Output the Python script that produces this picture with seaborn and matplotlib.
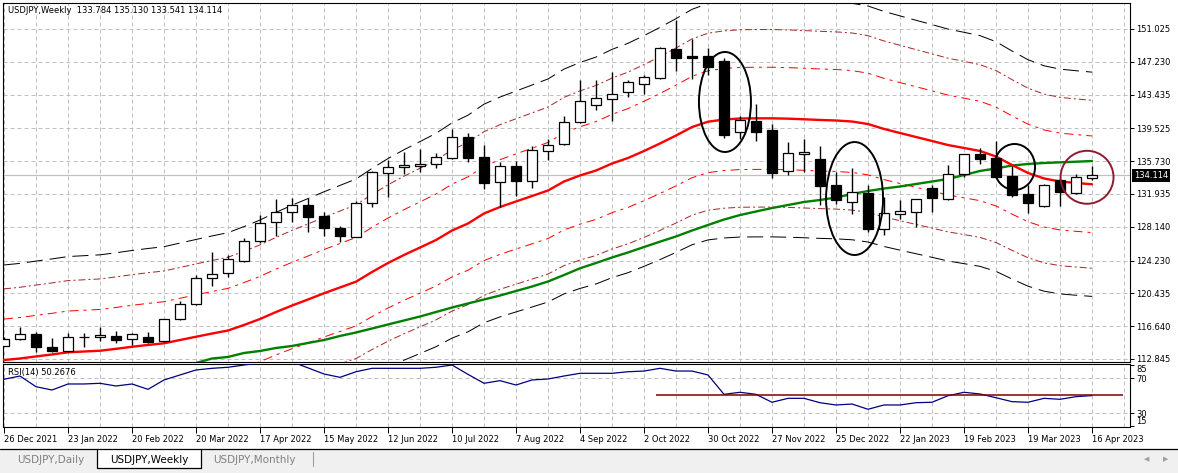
import numpy as np
import pandas as pd
import matplotlib
matplotlib.use("Agg")
import matplotlib.pyplot as plt
import matplotlib.transforms as mtrans
from matplotlib.patches import Ellipse, Rectangle
from matplotlib.lines import Line2D
import seaborn as sns

# ---------------- data ----------------
TITLE = "USDJPY,Weekly  133.784 135.130 133.541 134.114"
RSI_TITLE = "RSI(14) 50.2676"
TABS = ["USDJPY,Daily", "USDJPY,Weekly", "USDJPY,Monthly"]

DATE_LABELS = ["26 Dec 2021", "23 Jan 2022", "20 Feb 2022", "20 Mar 2022", "17 Apr 2022",
               "15 May 2022", "12 Jun 2022", "10 Jul 2022", "7 Aug 2022", "4 Sep 2022",
               "2 Oct 2022", "30 Oct 2022", "27 Nov 2022", "25 Dec 2022", "22 Jan 2023",
               "19 Feb 2023", "19 Mar 2023", "16 Apr 2023"]

PRICE_TICKS = [112.845, 116.640, 120.435, 124.230, 128.140, 131.935,
               135.730, 139.525, 143.435, 147.230, 151.025]
RSI_MAJOR_TICKS = [30, 70]
RSI_MINOR_TICKS = [15, 85]
LAST_PRICE = 134.114

OPEN = [114.38, 115.12, 115.74, 114.23, 113.73, 115.36, 115.36, 115.50, 115.12, 115.36,
        114.96, 117.44, 119.17, 122.18, 122.76, 124.15, 126.46, 128.69, 129.81, 130.66,
        129.39, 127.99, 126.99, 130.93, 134.40, 135.02, 135.14, 135.37, 136.06, 138.56,
        136.18, 133.36, 135.17, 133.47, 136.94, 137.68, 140.23, 142.20, 142.96, 143.70,
        144.70, 145.32, 148.68, 147.90, 147.90, 147.33, 139.14, 140.38, 139.34, 134.63,
        136.53, 135.95, 132.97, 130.97, 132.08, 127.85, 129.58, 129.81, 132.59, 131.32,
        134.29, 136.56, 136.06, 134.02, 131.94, 130.58, 133.55, 132.08, 133.784]
HIGH = [115.35, 116.58, 115.97, 115.24, 115.89, 115.82, 116.58, 116.08, 115.90, 115.97,
        117.50, 119.59, 122.56, 125.26, 124.84, 126.84, 129.50, 131.32, 131.43, 131.43,
        129.89, 128.23, 131.09, 134.63, 135.87, 136.83, 137.14, 136.64, 139.46, 138.96,
        137.60, 135.64, 135.75, 137.49, 138.26, 140.96, 145.12, 145.12, 146.08, 145.12,
        145.70, 148.98, 152.07, 149.83, 148.86, 147.63, 140.96, 142.31, 140.00, 137.91,
        138.26, 137.52, 134.52, 134.91, 132.97, 131.62, 131.24, 131.40, 133.00, 135.29,
        136.60, 137.22, 138.07, 135.21, 132.97, 133.10, 133.75, 134.25, 135.130]
LOW = [114.30, 115.00, 113.62, 113.69, 113.62, 114.27, 114.96, 114.66, 114.50, 114.66,
       114.80, 117.30, 119.10, 121.32, 122.37, 124.10, 126.30, 127.07, 128.73, 127.57,
       127.07, 126.38, 126.92, 130.47, 131.55, 134.25, 134.52, 134.91, 135.99, 135.68,
       132.48, 130.47, 131.70, 132.66, 135.87, 137.56, 140.10, 141.65, 140.42, 143.19,
       143.54, 145.20, 146.17, 145.20, 145.70, 138.45, 138.26, 138.10, 133.75, 134.13,
       134.52, 130.66, 130.78, 129.58, 127.57, 127.19, 129.01, 128.15, 129.85, 131.20,
       133.94, 135.37, 133.80, 131.62, 129.70, 130.47, 130.55, 131.90, 133.541]
CLOSE = [115.20, 115.74, 114.27, 113.81, 115.36, 115.38, 115.59, 115.08, 115.70, 114.85,
         117.44, 119.21, 122.18, 122.64, 124.38, 126.50, 128.54, 129.85, 130.66, 129.31,
         128.04, 127.11, 130.86, 134.45, 135.02, 135.29, 135.37, 136.18, 138.56, 136.14,
         133.24, 135.17, 133.47, 137.02, 137.60, 140.23, 142.70, 143.00, 143.47, 144.89,
         145.44, 148.79, 147.64, 147.71, 146.66, 138.76, 140.50, 139.14, 134.40, 136.64,
         136.76, 132.89, 131.24, 132.20, 127.88, 129.70, 129.97, 131.32, 131.51, 134.21,
         136.53, 135.95, 133.94, 131.82, 130.86, 132.97, 132.20, 133.86, 134.114]

MA_RED = [112.73, 112.90, 113.14, 113.37, 113.62, 113.71, 113.80, 114.02, 114.26, 114.47,
          114.66, 115.04, 115.42, 115.79, 116.14, 116.78, 117.47, 118.28, 119.03, 119.73,
          120.45, 121.12, 121.79, 122.91, 123.95, 124.88, 125.74, 126.61, 127.71, 128.52,
          129.68, 130.43, 131.07, 131.70, 132.34, 133.38, 134.08, 134.65, 135.46, 136.10,
          136.91, 137.78, 138.70, 139.68, 140.30, 140.55, 140.67, 140.69, 140.69, 140.65,
          140.58, 140.50, 140.44, 140.32, 140.03, 139.46, 138.99, 138.53, 138.07, 137.60,
          137.26, 136.91, 136.27, 135.29, 134.37, 133.73, 133.38, 133.21, 133.06]
MA_GREEN = [None] * 12 + [
          112.38, 112.90, 113.08, 113.54, 113.77, 114.12, 114.35, 114.70, 115.04, 115.51,
          115.91, 116.37, 116.84, 117.30, 117.76, 118.28, 118.80, 119.27, 119.73, 120.19,
          120.71, 121.23, 121.81, 122.56, 123.34, 123.95, 124.59, 125.17, 125.80, 126.42,
          127.02, 127.71, 128.35, 128.98, 129.50, 129.91, 130.31, 130.66, 131.01, 131.24,
          131.53, 131.93, 132.28, 132.57, 132.80, 133.09, 133.38, 133.67, 134.13, 134.60,
          134.89, 135.23, 135.41, 135.52, 135.60, 135.67, 135.75]
# envelope deviations (percent) around the red MA: inner (red), middle (brown), outer (black)
ENVELOPE_PCT = [4.2, 7.3, 9.75]

RSI = [68.9, 72.6, 60.4, 56.6, 63.5, 63.5, 64.3, 61.2, 63.5, 57.4,
       68.1, 73.8, 79.5, 81.4, 82.6, 85.2, 87.5, 89.0, 88.8, 81.9,
       74.9, 71.1, 77.5, 81.4, 81.4, 81.4, 81.4, 82.6, 85.2, 74.5,
       64.3, 67.3, 62.3, 68.1, 69.2, 72.6, 75.7, 75.7, 75.7, 77.5,
       78.3, 81.4, 78.3, 78.3, 73.8, 51.7, 54.0, 51.7, 42.6, 47.1,
       47.1, 42.1, 39.5, 40.6, 34.6, 39.5, 39.5, 42.1, 42.6, 50.1,
       54.0, 52.1, 47.8, 43.3, 42.6, 47.1, 46.0, 49.0, 50.27]
RSI_TRENDLINE_LEVEL = 50.9
RSI_TRENDLINE_BARS = [40.75, 69.94]

# hand-drawn annotation ellipses: (centre bar, centre price, width in bars, height in price)
ELLIPSES = [(45.06, 142.58, 3.25, 11.57), (53.16, 131.41, 3.56, 13.07), (63.16, 135.06, 2.56, 5.32)]
CIRCLE = (67.69, 133.87, 3.31, 6.13)

# ---------------- styling ----------------
sns.set_theme(style="white")
plt.rcParams['font.family'] = ['DejaVu Sans']
plt.rcParams['font.size'] = 6
plt.rcParams['axes.linewidth'] = 0.8

W, H = 1178, 473
fig = plt.figure(figsize=(W / 100, H / 100), dpi=100)
fig.patch.set_facecolor('white')


def frac(l, t, r, b):
    return [l / W, 1 - b / H, (r - l) / W, (b - t) / H]


ax = fig.add_axes(frac(3, 3, 1130, 362))
axr = fig.add_axes(frac(3, 364, 1130, 427))

n = len(OPEN)
bars = np.arange(n)
o, h, l, c = (np.array(v, dtype=float) for v in (OPEN, HIGH, LOW, CLOSE))
ma_red = np.array(MA_RED, dtype=float)
ma_green = np.array([np.nan if v is None else v for v in MA_GREEN], dtype=float)

XLIM = (-0.0625, 70.375)
GRID_KW = dict(color='#C0C0C0', linestyle=(0, (4, 3)), linewidth=0.72)

# ---- main price panel ----
ax.set_facecolor('white')
ax.set_xlim(*XLIM)
ax.set_ylim(112.497, 154.033)

band_styles = [('#FF0000', [9, 5, 3, 5]), ('#A52A2A', [7, 3, 2, 3]), ('#000000', [16, 7])]
for pct, (col, dash) in zip(ENVELOPE_PCT, band_styles):
    for sign in (1, -1):
        sns.lineplot(x=bars, y=ma_red * (1 + sign * pct / 100.0), ax=ax, color=col,
                     lw=0.72, legend=False, zorder=2)
        ax.lines[-1].set_dashes(dash)

gmask = ~np.isnan(ma_green)
sns.lineplot(x=bars[gmask], y=ma_green[gmask], ax=ax, color='#008000', lw=1.7, legend=False, zorder=3)
sns.lineplot(x=bars, y=ma_red, ax=ax, color='#FF0000', lw=1.7, legend=False, zorder=3)

ax.axhline(LAST_PRICE, color='#C0C0C0', lw=0.9, zorder=1.5)

# candles
ax.vlines(bars, l, h, color='black', lw=1.0, zorder=5)
up = c >= o
ax.bar(bars, np.abs(c - o), bottom=np.minimum(o, c), width=0.62,
       color=np.where(up, 'white', 'black'), edgecolor='black', linewidth=0.9, zorder=6)

for (bx, by, bw, bh) in ELLIPSES:
    ax.add_patch(Ellipse((bx, by), bw, bh, fill=False, edgecolor='black', lw=1.4, zorder=10))
ax.add_patch(Ellipse(CIRCLE[:2], CIRCLE[2], CIRCLE[3], fill=False, edgecolor='#8C1C2E', lw=1.4, zorder=10))

ax.set_xticks(np.arange(0, 71, 2))
ax.tick_params(axis='x', length=0, labelbottom=False)
ax.yaxis.tick_right()
ax.set_yticks(PRICE_TICKS)
ax.set_yticklabels([f"{v:.3f}" for v in PRICE_TICKS])
ax.tick_params(axis='y', which='major', length=3, width=0.7, pad=1.5, labelsize=6,
               colors='black', right=True, left=False)
ax.grid(True, **GRID_KW)
ax.set_axisbelow(True)
for s in ax.spines.values():
    s.set_color('black')
    s.set_linewidth(0.8)

trans = mtrans.blended_transform_factory(ax.transAxes, ax.transData)
ax.text(1.0 + 4.0 / 1127, LAST_PRICE, f"{LAST_PRICE:.3f}", transform=trans, ha='left', va='center',
        fontsize=6, color='white', clip_on=False, zorder=20,
        bbox=dict(boxstyle='square,pad=0.25', fc='black', ec='black', lw=0))

# ---- RSI panel ----
axr.set_facecolor('white')
axr.set_xlim(*XLIM)
axr.set_ylim(14.34, 86.34)
sns.lineplot(x=bars, y=RSI, ax=axr, color='#000080', lw=0.9, legend=False, zorder=3)
axr.hlines(RSI_TRENDLINE_LEVEL, RSI_TRENDLINE_BARS[0], RSI_TRENDLINE_BARS[1],
           color='#800000', lw=1.1, zorder=4)

axr.set_xticks(np.arange(0, n, 4))
axr.set_xticklabels(DATE_LABELS, ha='left')
axr.set_xticks(np.arange(2, 71, 4), minor=True)
axr.tick_params(axis='x', which='major', length=4, width=0.7, pad=2, labelsize=6, colors='black',
                bottom=True)
axr.tick_params(axis='x', which='minor', length=0)
axr.yaxis.tick_right()
axr.set_yticks(RSI_MAJOR_TICKS)
axr.set_yticklabels([str(v) for v in RSI_MAJOR_TICKS])
axr.set_yticks(RSI_MINOR_TICKS, minor=True)
axr.set_yticklabels([str(v) for v in RSI_MINOR_TICKS], minor=True)
axr.tick_params(axis='y', which='both', length=3, width=0.7, pad=1.5, labelsize=6, colors='black',
                right=True, left=False)
for lab in axr.get_yticklabels(minor=True):
    lab.set_va('top' if lab.get_text() == '85' else 'bottom')
axr.grid(True, axis='y', which='major', **GRID_KW)
axr.grid(True, axis='x', which='both', **GRID_KW)
axr.set_axisbelow(True)
axr.set_xlabel('')
axr.set_ylabel('')
ax.set_xlabel('')
ax.set_ylabel('')
for s in axr.spines.values():
    s.set_color('black')
    s.set_linewidth(0.8)

# ---- texts ----
fig.text(8 / W, 1 - 10.7 / H, TITLE, fontsize=6, va='center', ha='left', color='black')
fig.text(8 / W, 1 - 372.7 / H, RSI_TITLE, fontsize=6, va='center', ha='left', color='black')

# ---- tab strip ----
def fx(x):
    return x / W


def fy(y):
    return 1 - y / H


fig.add_artist(Rectangle((0, 0), 1, fy(449), transform=fig.transFigure, fc='#F0F0F0', ec='none', zorder=0))
fig.add_artist(Line2D([0, 1], [fy(449), fy(449)], transform=fig.transFigure, color='black', lw=0.9))
fig.add_artist(Rectangle((fx(97), fy(468)), fx(104), fy(450) - fy(468), transform=fig.transFigure,
                         fc='white', ec='none', zorder=1))
fig.add_artist(Line2D([fx(97), fx(97), fx(201), fx(201)], [fy(449), fy(468), fy(468), fy(449)],
                      transform=fig.transFigure, color='black', lw=0.9, zorder=2))
fig.add_artist(Line2D([fx(313), fx(313)], [fy(452), fy(466)], transform=fig.transFigure,
                      color='#A0A0A0', lw=0.8))
tab_x = [17, 110, 213]
tab_col = ['#808080', 'black', '#808080']
for t, x, col in zip(TABS, tab_x, tab_col):
    fig.text(fx(x), fy(459.5), t, fontsize=7.5, color=col, va='center', ha='left', zorder=3)
fig.text(fx(1147), fy(459), "\u25c0", fontsize=5, color='#A0A0A0', va='center', ha='center')
fig.text(fx(1166), fy(459), "\u25b6", fontsize=5, color='#A0A0A0', va='center', ha='center')

fig.savefig("out.png", dpi=100, facecolor='white')
